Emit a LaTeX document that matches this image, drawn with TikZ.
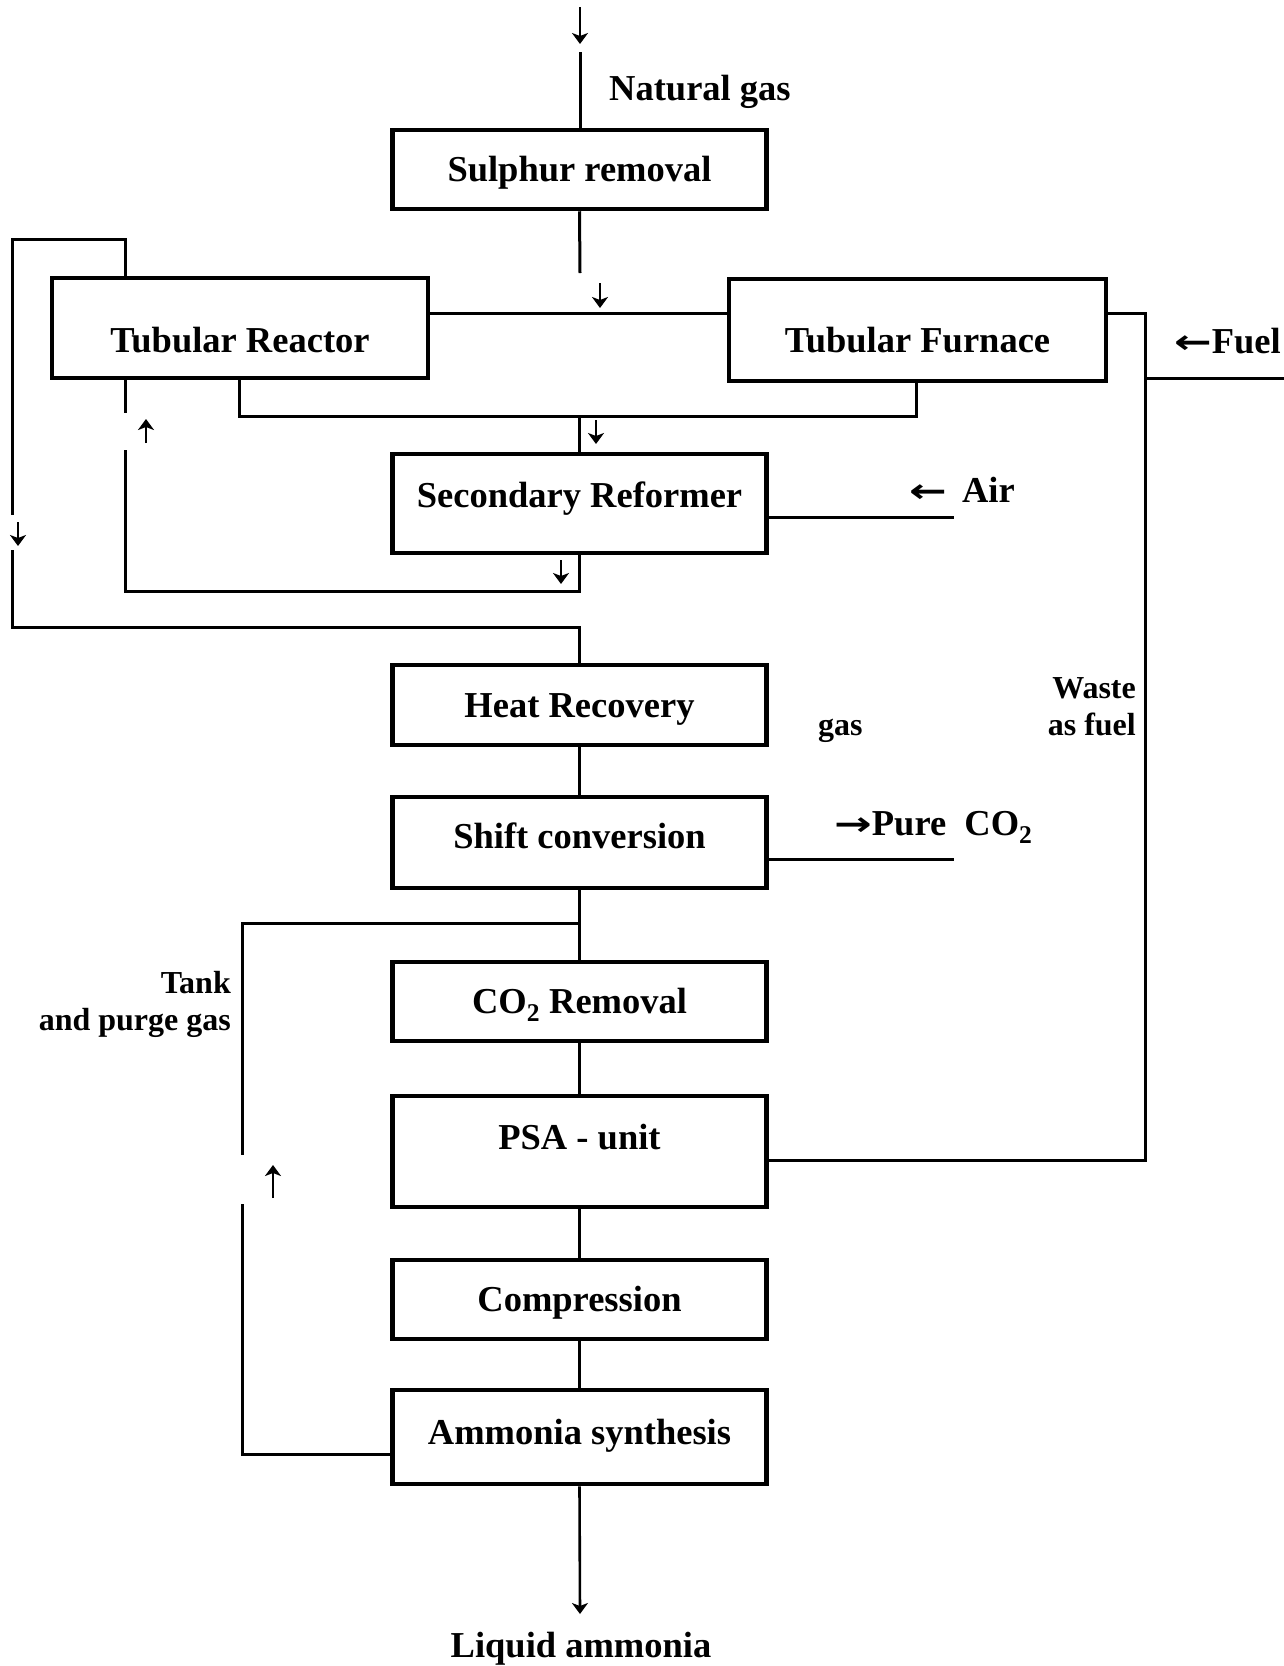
\documentclass[tikz,border=0pt]{standalone}
\usepackage{fontspec}
\setmainfont{Liberation Serif}
\newfontfamily\arrowfont{DejaVu Sans}
\newcommand{\larr}{{\arrowfont\bfseries\fontsize{30}{36}\selectfont\scalebox{1.5}[1.1]{←}}}
\newcommand{\rarr}{{\arrowfont\bfseries\fontsize{30}{36}\selectfont\scalebox{1.5}[1.1]{→}}}
\usetikzlibrary{arrows.meta}
\begin{document}
\begin{tikzpicture}[x=1pt,y=-1pt,
  box/.style={draw,line width=4.5pt,inner sep=0pt,minimum width=374pt,
    font=\fontsize{36.5}{40}\selectfont\bfseries,text height=24pt,text depth=0pt},
  lbl/.style={inner sep=0pt,font=\fontsize{36.5}{40}\selectfont\bfseries},
  sm/.style={inner sep=0pt,font=\fontsize{32}{37}\selectfont\bfseries},
  conn/.style={line width=3pt},
  arr/.style={line width=2.6pt,-{Stealth[length=11pt,width=16pt,inset=3pt]}}]
\useasboundingbox (0,0) rectangle (1284,1666);
% boxes
\node[box,minimum height=79pt] (sulphur) at (579.5,169.5) {Sulphur removal};
\node[box,minimum width=376pt,minimum height=100pt,text height=48pt] (reactor) at (240,328) {Tubular Reactor};
\node[box,minimum width=377pt,minimum height=102pt,text height=44pt] (furnace) at (917.5,330) {Tubular Furnace};
\node[box,minimum height=99pt,text depth=17pt] (secondary) at (579.5,503.5) {Secondary Reformer};
\node[box,minimum height=80pt] (heat) at (579.5,705) {Heat Recovery};
\node[box,minimum height=91pt,text depth=12pt] (shift) at (579.5,842.5) {Shift conversion};
\node[box,minimum height=79pt] (co2rem) at (579.5,1001.5) {CO\textsubscript{2} Removal};
\node[box,minimum height=111pt,text depth=29pt] (psa) at (579.5,1151.5) {PSA - unit};
\node[box,minimum height=79pt] (comp) at (579.5,1299.5) {Compression};
\node[box,minimum height=94pt,text depth=10pt] (ammonia) at (579.5,1437) {Ammonia synthesis};
% labels
\node[lbl,anchor=base west] (ng) at (609,100) {Natural gas};
\node[lbl,anchor=base] (liq) at (581,1657) {Liquid ammonia};
\node[lbl,anchor=base west] (airl) at (909,502) {\larr\ \,Air};
\node[lbl,anchor=base east] (fuel) at (1281,353) {\larr Fuel};
\node[lbl,anchor=base west] (pco2) at (834,835) {\rarr Pure\ \ CO\textsubscript{2}};
\node[sm,anchor=base west] (gas) at (818,735) {gas};
\node[sm,anchor=base east] (waste) at (1136,698) {Waste};
\node[sm,anchor=base east] (asfuel) at (1136,735) {as fuel};
\node[sm,anchor=base east] (tank) at (231,993) {Tank};
\node[sm,anchor=base east] (purge) at (231,1030) {and purge gas};
% coordinates
\coordinate (topA) at (580,7); \coordinate (topB) at (580,44);
\coordinate (ngin) at (580,52);
\coordinate (s1) at (580,273);
\coordinate (a1) at (600,283); \coordinate (a1e) at (600,308);
\coordinate (hline) at (600,313);
\coordinate (L1) at (125,239); \coordinate (L2) at (12,239); \coordinate (L3) at (12,515);
\coordinate (a2) at (18,522); \coordinate (a2e) at (18,546);
\coordinate (L4) at (12,550); \coordinate (L5) at (12,627);
\coordinate (R1) at (125,413);
\coordinate (a3) at (146,443); \coordinate (a3e) at (146,419);
\coordinate (R2) at (125,450); \coordinate (R3) at (125,591);
\coordinate (a4) at (561,560); \coordinate (a4e) at (561,584);
\coordinate (P1) at (239,416); \coordinate (P2) at (916,416);
\coordinate (a5) at (596,420); \coordinate (a5e) at (596,444);
\coordinate (air) at (954,517);
\coordinate (F1) at (1145,313); \coordinate (F2) at (1145,1160);
\coordinate (fuelA) at (1145,378); \coordinate (fuelB) at (1284,378);
\coordinate (co2out) at (954,859);
\coordinate (T1) at (242,923); \coordinate (T2) at (242,1155);
\coordinate (a6) at (273,1198); \coordinate (a6e) at (273,1165);
\coordinate (T3) at (242,1204); \coordinate (T4) at (242,1454);
\coordinate (out) at (580,1614);
% connectors
\draw[arr] (topA) -- (topB);
\draw[conn] (ngin) -- (ngin |- sulphur.north);
\draw[conn] (sulphur.south) -- (s1);
\draw[arr] (a1) -- (a1e);
\draw[conn] (reactor.east |- hline) -- (furnace.west |- hline);
\draw[conn] (reactor.north -| L1) -- (L1) -- (L2) -- (L3);
\draw[arr] (a2) -- (a2e);
\draw[conn] (L4) -- (L5) -- (L5 -| heat.north) -- (heat.north);
\draw[conn] (reactor.south -| R1) -- (R1);
\draw[arr] (a3) -- (a3e);
\draw[conn] (R2) -- (R3) -- (R3 -| secondary.south) -- (secondary.south);
\draw[arr] (a4) -- (a4e);
\draw[conn] (reactor.south -| P1) -- (P1) -- (P2) -- (furnace.south -| P2);
\draw[conn] (P1 -| secondary.north) -- (secondary.north);
\draw[arr] (a5) -- (a5e);
\draw[conn] (secondary.east |- air) -- (air);
\draw[conn] (furnace.east |- F1) -- (F1) -- (F2) -- (psa.east |- F2);
\draw[conn] (fuelA) -- (fuelB);
\draw[conn] (heat.south) -- (shift.north);
\draw[conn] (shift.east |- co2out) -- (co2out);
\draw[conn] (shift.south) -- (co2rem.north);
\draw[conn] (T1 -| shift.south) -- (T1) -- (T2);
\draw[arr] (a6) -- (a6e);
\draw[conn] (T3) -- (T4) -- (ammonia.west |- T4);
\draw[conn] (co2rem.south) -- (psa.north);
\draw[conn] (psa.south) -- (comp.north);
\draw[conn] (comp.south) -- (ammonia.north);
\draw[arr] (ammonia.south) -- (out);
\end{tikzpicture}
\end{document}
